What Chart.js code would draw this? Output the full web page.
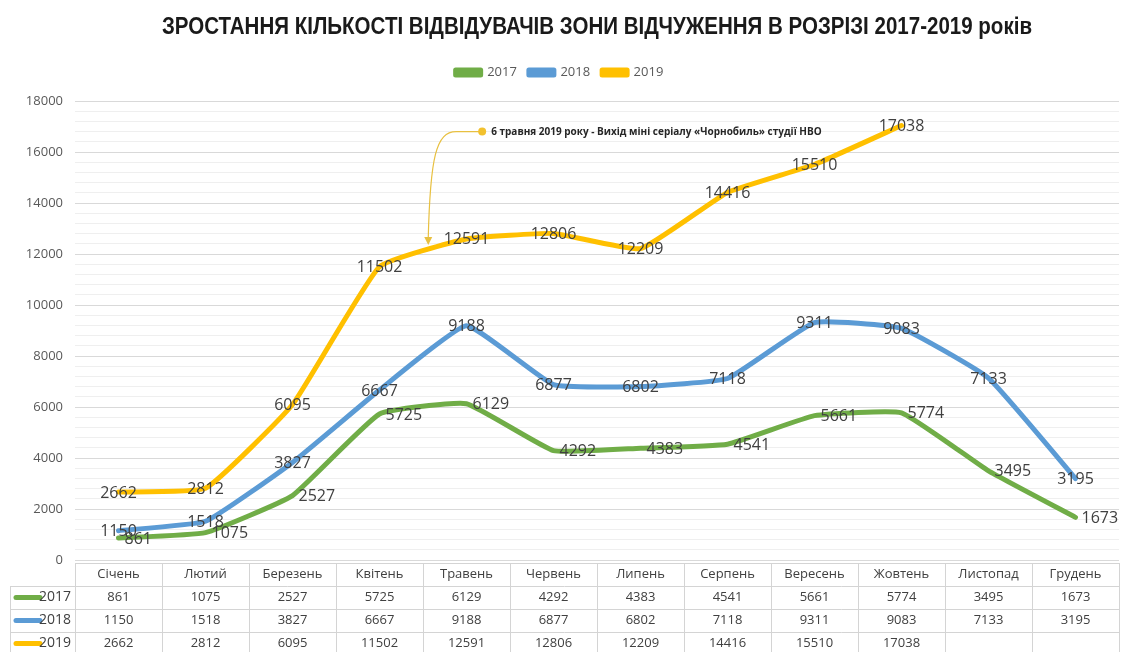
<!DOCTYPE html>
<html><head><meta charset="utf-8">
<script src="https://cdn.jsdelivr.net/npm/chart.js@4"></script>
<style>html,body{margin:0;padding:0;background:#fff}#wrap{width:1131px;height:652px}</style>
</head><body><div id="wrap"><canvas id="c" width="1131" height="652"></canvas></div>
<script>
const months = ['Січень','Лютий','Березень','Квітень','Травень','Червень','Липень','Серпень','Вересень','Жовтень','Листопад','Грудень'];
const years = ['2017','2018','2019'];
const v2017 = [861,1075,2527,5725,6129,4292,4383,4541,5661,5774,3495,1673];
const v2018 = [1150,1518,3827,6667,9188,6877,6802,7118,9311,9083,7133,3195];
const v2019 = [2662,2812,6095,11502,12591,12806,12209,14416,15510,17038,null,null];
const titleText = 'ЗРОСТАННЯ КІЛЬКОСТІ ВІДВІДУВАЧІВ ЗОНИ ВІДЧУЖЕННЯ В РОЗРІЗІ 2017-2019 років';
const noteText = '6 травня 2019 року - Вихід міні серіалу «Чорнобиль» студії НВО';

const colors = ['#70AD47','#5B9BD5','#FFC000'];
const series = [v2017, v2018, v2019];
const labelPos = ['right','center','center'];

const narrowTitle = {
  id:'narrowTitle',
  afterDraw(chart){
    const ctx = chart.ctx, a = chart.chartArea;
    ctx.save();
    ctx.font = 'bold 23px "Liberation Sans", Arial, sans-serif';
    const w = ctx.measureText(titleText).width;
    const sx = 870 / w;
    ctx.translate((a.left + a.right) / 2, 34);
    ctx.scale(sx, 1);
    ctx.fillStyle = '#1a1a1a';
    ctx.textAlign = 'center'; ctx.textBaseline = 'alphabetic';
    ctx.fillText(titleText, 0, 0);
    ctx.restore();
  }
};

const valueLabels = {
  id:'valueLabels',
  afterDatasetsDraw(chart){
    const ctx = chart.ctx;
    ctx.save();
    ctx.font = '16px "Open Sans"';
    ctx.fillStyle = '#404040';
    ctx.textBaseline = 'middle';
    chart.data.datasets.forEach((ds, di) => {
      const meta = chart.getDatasetMeta(di);
      meta.data.forEach((pt, i) => {
        const v = ds.data[i];
        if (v === null) return;
        if (labelPos[di] === 'right') { ctx.textAlign = 'left'; ctx.fillText(String(v), pt.x + 6, pt.y + 1); }
        else { ctx.textAlign = 'center'; ctx.fillText(String(v), pt.x, pt.y + 1); }
      });
    });
    ctx.restore();
  }
};

const annotation = {
  id:'annotation',
  afterDatasetsDraw(chart){
    const ctx = chart.ctx, x = chart.scales.x, y = chart.scales.y;
    const step = x.getPixelForValue(1) - x.getPixelForValue(0);
    const dx = x.getPixelForValue(4) + 0.18*step, dy = y.getPixelForValue(16800);
    const tx = x.getPixelForValue(3) + 0.56*step, ty = y.getPixelForValue(12350);
    ctx.save();
    ctx.strokeStyle = '#E8C040'; ctx.lineWidth = 1.2;
    ctx.beginPath();
    ctx.moveTo(dx, dy);
    ctx.lineTo(dx - 26, dy);
    ctx.bezierCurveTo(dx - 46, dy, tx + 2, dy + 25, tx, ty - 6);
    ctx.stroke();
    ctx.fillStyle = '#E8C040';
    ctx.beginPath(); ctx.moveTo(tx - 4, ty - 8); ctx.lineTo(tx + 4, ty - 8); ctx.lineTo(tx, ty); ctx.closePath(); ctx.fill();
    ctx.fillStyle = '#F2C12E';
    ctx.beginPath(); ctx.arc(dx, dy, 4, 0, Math.PI*2); ctx.fill();
    ctx.fillStyle = '#262626';
    ctx.font = 'bold 10px "Open Sans"';
    ctx.textAlign = 'left'; ctx.textBaseline = 'middle';
    ctx.fillText(noteText, dx + 9, dy + 1);
    ctx.restore();
  }
};

const dataTable = {
  id:'dataTable',
  afterDraw(chart){
    const ctx = chart.ctx, x = chart.scales.x, a = chart.chartArea;
    const step = x.getPixelForValue(1) - x.getPixelForValue(0);
    const top = a.bottom + 3, rh = 23, left = a.left, right = a.left + step*months.length;
    ctx.save();
    ctx.strokeStyle = '#d4d4d4'; ctx.lineWidth = 1;
    for (let r = 0; r <= 4; r++) {
      const yy = Math.round(top + r*rh) + 0.5;
      ctx.beginPath(); ctx.moveTo(r === 0 ? left : 10, yy); ctx.lineTo(right, yy); ctx.stroke();
    }
    for (let c = 0; c <= months.length; c++) {
      const xx = Math.round(left + c*step) + 0.5;
      ctx.beginPath(); ctx.moveTo(xx, top); ctx.lineTo(xx, top + 4*rh); ctx.stroke();
    }
    ctx.beginPath(); ctx.moveTo(10.5, top + rh); ctx.lineTo(10.5, top + 4*rh); ctx.stroke();
    ctx.fillStyle = '#404040';
    ctx.font = '13px "Open Sans"';
    ctx.textAlign = 'center'; ctx.textBaseline = 'middle';
    months.forEach((m, i) => ctx.fillText(m, x.getPixelForValue(i), top + rh/2));
    series.forEach((s, r) => {
      s.forEach((v, i) => { if (v !== null) ctx.fillText(String(v), x.getPixelForValue(i), top + (r+1)*rh + rh/2); });
      const cy = top + (r+1)*rh + rh/2;
      ctx.strokeStyle = colors[r]; ctx.lineWidth = 5; ctx.lineCap = 'round';
      ctx.beginPath(); ctx.moveTo(16, cy); ctx.lineTo(40, cy); ctx.stroke();
      ctx.fillStyle = '#404040'; ctx.textAlign = 'left';
      ctx.font = '14px "Open Sans"';
      ctx.fillText(years[r], 39, cy);
      ctx.font = '13px "Open Sans"'; ctx.textAlign = 'center';
    });
    ctx.restore();
  }
};

new Chart(document.getElementById('c'), {
  type:'line',
  data:{
    labels: months,
    datasets: years.map((yname, i) => ({
      label: yname, data: series[i], borderColor: colors[i], backgroundColor: colors[i],
      borderWidth: 5, pointRadius: 0, tension: 0.12, borderCapStyle:'round', borderJoinStyle:'round', spanGaps:false
    }))
  },
  options:{
    responsive:false, animation:false,
    layout:{ padding:{ left:0, right:12, top:54, bottom:92 } },
    plugins:{
      title:{ display:false },
      legend:{ display:true, labels:{ boxWidth:25, boxHeight:5, color:'#595959', padding:12,
        font:{ family:'"Open Sans"', size:13 } } },
      tooltip:{ enabled:false }
    },
    scales:{
      x:{ display:false, offset:true },
      xTopSpacer:{ type:'category', position:'top', display:true, offset:true,
        grid:{ display:false }, border:{ display:false }, ticks:{ display:false },
        afterFit(s){ s.height = 12; } },
      y:{ min:0, max:18000,
        afterFit(s){ s.width = 75; },
        border:{ display:false },
        grid:{ drawTicks:false, color: c => (c.tick.value % 2000 === 0 ? '#d9d9d9' : '#efefef'), lineWidth:1 },
        ticks:{ stepSize:400, autoSkip:false, padding:12, color:'#595959', font:{ family:'"Open Sans"', size:13 },
          callback: v => (v % 2000 === 0 ? String(v) : '') }
      }
    }
  },
  plugins:[narrowTitle, valueLabels, annotation, dataTable]
});
</script></body></html>
